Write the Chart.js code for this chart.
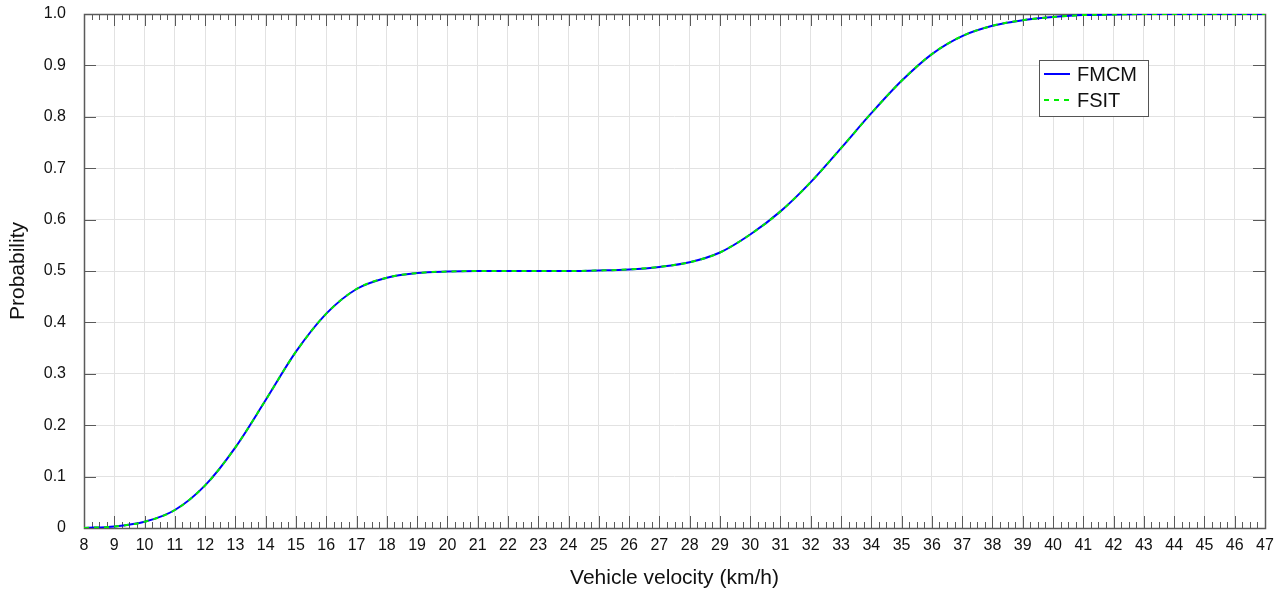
<!DOCTYPE html>
<html>
<head>
<meta charset="utf-8">
<script src="https://cdn.jsdelivr.net/npm/chart.js@4/dist/chart.umd.min.js"></script>
<style>
  html, body { margin: 0; padding: 0; background: #ffffff; }
  #wrap { width: 1282px; height: 593px; }
</style>
</head>
<body>
<div id="wrap"><canvas id="c" width="1282" height="593"></canvas></div>
<script>
// Vehicle velocity (km/h)
const velocity = [8, 9, 10, 11, 12, 13, 14, 15, 16, 17, 18, 19, 20, 21, 22, 23, 24, 25, 26, 27, 28, 29, 30, 31, 32, 33, 34, 35, 36, 37, 38, 39, 40, 41, 42, 43, 44, 45, 46, 47];
// Probability (FMCM)
const fmcm = [0.000, 0.003, 0.012, 0.035, 0.083, 0.157, 0.249, 0.343, 0.417, 0.465, 0.487, 0.496, 0.499, 0.500, 0.500, 0.500, 0.500, 0.501, 0.503, 0.508, 0.517, 0.536, 0.571, 0.616, 0.673, 0.739, 0.807, 0.870, 0.922, 0.957, 0.977, 0.988, 0.994, 0.998, 0.999, 1.000, 1.000, 1.000, 1.000, 1.000];
// Probability (FSIT) – overlaps FMCM
const fsit = [0.000, 0.003, 0.012, 0.035, 0.083, 0.157, 0.249, 0.343, 0.417, 0.465, 0.487, 0.496, 0.499, 0.500, 0.500, 0.500, 0.500, 0.501, 0.503, 0.508, 0.517, 0.536, 0.571, 0.616, 0.673, 0.739, 0.807, 0.870, 0.922, 0.957, 0.977, 0.988, 0.994, 0.998, 0.999, 1.000, 1.000, 1.000, 1.000, 1.000];
const seriesNames = ['FMCM', 'FSIT'];
const xTitle = 'Vehicle velocity (km/h)';
const yTitle = 'Probability';

const FONT = '"Liberation Sans", Arial, sans-serif';
const AXIS_COLOR = '#5a5a5a';

const boxTicksPlugin = {
  id: 'boxTicks',
  beforeDatasetsDraw(chart) {
    const ctx = chart.ctx;
    const a = chart.chartArea;
    const xs = chart.scales.x, ys = chart.scales.y;
    ctx.save();
    ctx.strokeStyle = AXIS_COLOR;
    ctx.lineWidth = 1;
    ctx.beginPath();
    // x ticks (major every 1, minor every 0.25) on bottom and top
    for (let i = 0; i <= (xs.max - xs.min) * 4; i++) {
      const v = xs.min + i * 0.25;
      const px = Math.round(xs.getPixelForValue(v)) + 0.5;
      const len = (i % 4 === 0) ? 12 : 6;
      ctx.moveTo(px, a.bottom); ctx.lineTo(px, a.bottom - len);
      ctx.moveTo(px, a.top); ctx.lineTo(px, a.top + len);
    }
    // y ticks (major every 0.1) on left and right
    for (let j = 0; j <= 10; j++) {
      const v = j / 10;
      const py = Math.round(ys.getPixelForValue(v)) + 0.5;
      ctx.moveTo(a.left, py); ctx.lineTo(a.left + 12, py);
      ctx.moveTo(a.right, py); ctx.lineTo(a.right - 12, py);
    }
    ctx.stroke();
    ctx.lineWidth = 1.5;
    ctx.strokeRect(Math.round(a.left) + 0.5, Math.round(a.top) + 0.5, Math.round(a.right - a.left), Math.round(a.bottom - a.top));
    ctx.restore();
  },
  afterDatasetsDraw(chart) {
    const ctx = chart.ctx;
    const ds = chart.data.datasets;
    const bx = 1039, by = 60, bw = 109, bh = 56;
    ctx.save();
    ctx.fillStyle = '#ffffff';
    ctx.fillRect(bx, by, bw, bh);
    ctx.strokeStyle = '#555555';
    ctx.lineWidth = 1;
    ctx.strokeRect(bx + 0.5, by + 0.5, bw, bh);
    ds.forEach((d, k) => {
      const y = by + 14 + k * 26;
      ctx.beginPath();
      ctx.strokeStyle = d.borderColor;
      ctx.lineWidth = 2;
      ctx.setLineDash(d.borderDash || []);
      ctx.moveTo(bx + 5, y); ctx.lineTo(bx + 31, y);
      ctx.stroke();
      ctx.setLineDash([]);
      ctx.fillStyle = '#111111';
      ctx.font = '20px ' + FONT;
      ctx.textBaseline = 'middle';
      ctx.textAlign = 'left';
      ctx.fillText(d.label, bx + 38, y + 1);
    });
    ctx.restore();
  }
};

const toPts = (arr) => velocity.map((v, i) => ({ x: v, y: arr[i] }));

new Chart(document.getElementById('c'), {
  type: 'line',
  data: {
    datasets: [
      { label: seriesNames[0], data: toPts(fmcm), borderColor: '#0000ff', borderWidth: 2, pointRadius: 0, cubicInterpolationMode: 'monotone', fill: false, order: 2 },
      { label: seriesNames[1], data: toPts(fsit), borderColor: '#00ee00', borderWidth: 2, borderDash: [5, 5], pointRadius: 0, cubicInterpolationMode: 'monotone', fill: false, order: 1 }
    ]
  },
  options: {
    responsive: false,
    animation: false,
    layout: { padding: { top: 14, right: 17, left: 0, bottom: 0 } },
    plugins: { legend: { display: false }, tooltip: { enabled: false } },
    scales: {
      x: {
        type: 'linear', min: 8, max: 47,
        afterFit(s) { s.height = 65; s.paddingLeft = 0; s.paddingRight = 0; s.paddingTop = 0; s.paddingBottom = 0; },
        ticks: { stepSize: 1, color: '#111', font: { family: FONT, size: 16 }, padding: 8, maxRotation: 0, autoSkip: false },
        grid: { color: '#e2e2e2', lineWidth: 1, drawTicks: false },
        border: { display: false },
        title: { display: true, text: xTitle, color: '#111', font: { family: FONT, size: 21 }, padding: { top: 0, bottom: 2 } }
      },
      y: {
        type: 'linear', min: 0, max: 1,
        afterFit(s) { s.width = 84; s.paddingLeft = 0; s.paddingRight = 0; s.paddingTop = 0; s.paddingBottom = 0; },
        ticks: { stepSize: 0.1, color: '#111', font: { family: FONT, size: 16 }, padding: 18,
          callback: (v) => { const r = Math.round(v * 10) / 10; return r === 0 ? '0' : r.toFixed(1); } },
        grid: { color: '#e2e2e2', lineWidth: 1, drawTicks: false },
        border: { display: false },
        title: { display: true, text: yTitle, color: '#111', font: { family: FONT, size: 21 }, padding: { top: 6, bottom: 0 } }
      }
    }
  },
  plugins: [boxTicksPlugin]
});
</script>
</body>
</html>
